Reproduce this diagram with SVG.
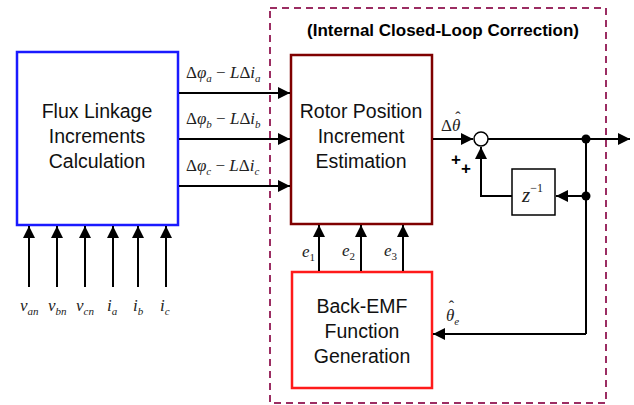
<svg xmlns="http://www.w3.org/2000/svg" width="634" height="405" viewBox="0 0 634 405">
  <style>
    .lbl { font-family: "Liberation Sans", Arial, sans-serif; font-size: 19.5px; fill: #111; text-anchor: middle; }
    .title { font-family: "Liberation Sans", Arial, sans-serif; font-size: 17px; font-weight: bold; fill: #000; text-anchor: middle; }
    .m { font-family: "Liberation Serif", "Times New Roman", serif; font-size: 17px; fill: #222; }
    .mi { font-style: italic; }
    .sub { font-size: 11px; font-style: italic; }
    .num { font-size: 11px; }
    .hat { font-size: 16px; font-style: normal; }
    .wire { stroke: #000; stroke-width: 2; fill: none; }
    .arr { stroke: #000; stroke-width: 2; fill: none; marker-end: url(#ah); }
  </style>
  <defs>
    <marker id="ah" viewBox="0 0 10 10" refX="10" refY="5" markerWidth="6" markerHeight="6" markerUnits="strokeWidth" orient="auto">
      <path d="M0,0 L10,5 L0,10 z" fill="#000"/>
    </marker>
  </defs>
  <rect width="634" height="405" fill="#fff"/>

  <!-- closed-loop region -->
  <g id="loop-region">
    <rect x="270" y="8" width="336" height="395" fill="none" stroke="#9b2d62" stroke-width="2" stroke-dasharray="7,5"/>
    <text class="title" x="443" y="36">(Internal Closed-Loop Correction)</text>
  </g>

  <g id="flux">
    <rect x="17" y="52" width="161" height="173" fill="#fff" stroke="#1a1aff" stroke-width="2.5"/>
    <text class="lbl" x="97" y="118">Flux Linkage</text>
    <text class="lbl" x="97" y="143">Increments</text>
    <text class="lbl" x="97" y="168">Calculation</text>
  </g>

  <g id="rotor">
    <rect x="291" y="55" width="141" height="169" fill="#fff" stroke="#7f0000" stroke-width="2.5"/>
    <text class="lbl" x="361" y="118">Rotor Position</text>
    <text class="lbl" x="361" y="143">Increment</text>
    <text class="lbl" x="361" y="168">Estimation</text>
  </g>

  <g id="backemf">
    <rect x="292" y="272" width="140" height="116" fill="#fff" stroke="#ff1a1a" stroke-width="2.5"/>
    <text class="lbl" x="362" y="313">Back-EMF</text>
    <text class="lbl" x="362" y="338">Function</text>
    <text class="lbl" x="362" y="363">Generation</text>
  </g>

  <g id="delay">
    <rect x="512" y="169" width="43" height="46" fill="#fff" stroke="#000" stroke-width="1.5"/>
    <text class="m" x="522" y="202"><tspan class="mi" font-size="21">z</tspan><tspan font-size="12" dy="-10">−1</tspan></text>
  </g>

  <g id="sum">
    <circle cx="481" cy="139" r="7" fill="#fff" stroke="#000" stroke-width="1.5"/>
    <text x="451" y="165" font-family="Liberation Sans, Arial, sans-serif" font-size="17" font-weight="bold">+</text>
    <text x="461" y="174" font-family="Liberation Sans, Arial, sans-serif" font-size="17" font-weight="bold">+</text>
  </g>

  <g id="connectors">
    <!-- flux increments into rotor block -->
    <line class="arr" x1="179" y1="93" x2="290" y2="93"/>
    <line class="arr" x1="179" y1="139" x2="290" y2="139"/>
    <line class="arr" x1="179" y1="186" x2="290" y2="186"/>
    <!-- measured inputs -->
    <line class="arr" x1="29" y1="287" x2="29" y2="226"/>
    <line class="arr" x1="57" y1="287" x2="57" y2="226"/>
    <line class="arr" x1="85" y1="287" x2="85" y2="226"/>
    <line class="arr" x1="113" y1="287" x2="113" y2="226"/>
    <line class="arr" x1="138" y1="287" x2="138" y2="226"/>
    <line class="arr" x1="166" y1="287" x2="166" y2="226"/>
    <!-- back-EMF functions -->
    <line class="arr" x1="319" y1="271" x2="319" y2="225"/>
    <line class="arr" x1="361" y1="271" x2="361" y2="225"/>
    <line class="arr" x1="403" y1="271" x2="403" y2="225"/>
    <!-- increment to summer -->
    <line class="arr" x1="433" y1="139" x2="473" y2="139"/>
    <!-- summer output -->
    <line class="arr" x1="488" y1="139" x2="630" y2="139"/>
    <!-- feedback via delay -->
    <polyline class="wire" points="586,139 586,334"/>
    <line class="arr" x1="586" y1="196" x2="556" y2="196"/>
    <polyline class="arr" points="512,196 481,196 481,147"/>
    <polyline class="arr" points="586,334 433,334"/>
    <circle cx="586" cy="139" r="4.5" fill="#000"/>
    <circle cx="586" cy="196" r="4.5" fill="#000"/>
  </g>

  <g id="labels">
    <text class="m" x="186" y="78"><tspan>Δ</tspan><tspan class="mi">φ</tspan><tspan class="sub" dy="4">a</tspan><tspan dy="-4"> − </tspan><tspan class="mi">L</tspan><tspan>Δ</tspan><tspan class="mi">i</tspan><tspan class="sub" dy="4">a</tspan></text>
    <text class="m" x="186" y="124"><tspan>Δ</tspan><tspan class="mi">φ</tspan><tspan class="sub" dy="4">b</tspan><tspan dy="-4"> − </tspan><tspan class="mi">L</tspan><tspan>Δ</tspan><tspan class="mi">i</tspan><tspan class="sub" dy="4">b</tspan></text>
    <text class="m" x="186" y="171"><tspan>Δ</tspan><tspan class="mi">φ</tspan><tspan class="sub" dy="4">c</tspan><tspan dy="-4"> − </tspan><tspan class="mi">L</tspan><tspan>Δ</tspan><tspan class="mi">i</tspan><tspan class="sub" dy="4">c</tspan></text>

    <text class="m" x="20" y="311" font-size="19"><tspan class="mi">v</tspan><tspan class="sub" dy="4">an</tspan></text>
    <text class="m" x="48" y="311" font-size="19"><tspan class="mi">v</tspan><tspan class="sub" dy="4">bn</tspan></text>
    <text class="m" x="76" y="311" font-size="19"><tspan class="mi">v</tspan><tspan class="sub" dy="4">cn</tspan></text>
    <text class="m" x="107" y="311" font-size="19"><tspan class="mi">i</tspan><tspan class="sub" dy="4">a</tspan></text>
    <text class="m" x="133" y="311" font-size="19"><tspan class="mi">i</tspan><tspan class="sub" dy="4">b</tspan></text>
    <text class="m" x="160" y="311" font-size="19"><tspan class="mi">i</tspan><tspan class="sub" dy="4">c</tspan></text>

    <text class="m" x="302" y="257"><tspan class="mi">e</tspan><tspan class="num" dy="4">1</tspan></text>
    <text class="m" x="342" y="256"><tspan class="mi">e</tspan><tspan class="num" dy="4">2</tspan></text>
    <text class="m" x="384" y="256"><tspan class="mi">e</tspan><tspan class="num" dy="4">3</tspan></text>

    <!-- estimated-angle labels; the circumflex is kerned back over the theta -->
    <text class="m" x="441" y="131" font-size="18"><tspan>Δ</tspan><tspan class="mi">θ</tspan><tspan class="hat" dx="-5" dy="-8">ˆ</tspan></text>
    <text class="m" x="446" y="321" font-size="19"><tspan class="mi">θ</tspan><tspan class="hat" dx="-5.5" dy="-9">ˆ</tspan><tspan class="sub" font-size="9" dy="13">e</tspan></text>
  </g>
</svg>
